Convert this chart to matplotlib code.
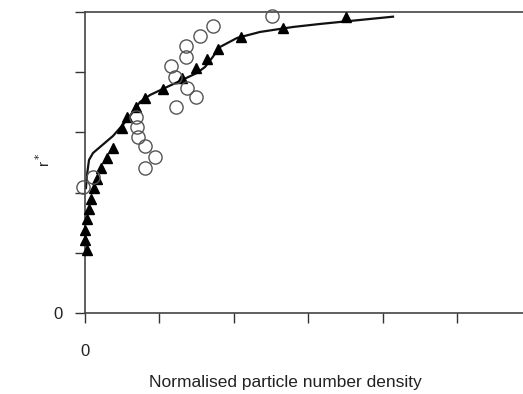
import matplotlib
matplotlib.use('Agg')
import matplotlib.pyplot as plt

plt.rcParams['font.family'] = ['Liberation Sans', 'DejaVu Sans']

# data
tri_x = [0.023, 0.0, 0.0, 0.023, 0.054, 0.081, 0.121, 0.157, 0.215, 0.292,
         0.376, 0.493, 0.569, 0.685, 0.806, 1.052, 1.300, 1.492, 1.644,
         1.792, 2.097, 2.661, 3.508]
tri_y = [1.047, 1.213, 1.379, 1.561, 1.728, 1.894, 2.076, 2.226, 2.409, 2.575,
         2.741, 3.073, 3.256, 3.422, 3.571, 3.721, 3.904, 4.070, 4.219,
         4.385, 4.585, 4.734, 4.917]

circ_x = [-0.027, 0.112, 0.685, 0.695, 0.712, 0.813, 0.941, 0.806, 1.223,
          1.492, 1.367, 1.210, 1.156, 1.353, 1.364, 1.550, 1.714, 2.509]
circ_y = [2.093, 2.267, 3.256, 3.085, 2.924, 2.766, 2.586, 2.414, 3.422,
          3.588, 3.743, 3.925, 4.098, 4.257, 4.430, 4.601, 4.767, 4.934]

fit_x = [0.013, 0.027, 0.054, 0.108, 0.202, 0.376, 0.565, 0.739, 0.874, 1.102,
         1.304, 1.505, 1.613, 1.707, 1.815, 2.043, 2.352, 2.796, 3.159, 4.140]
fit_y = [2.076, 2.292, 2.542, 2.658, 2.757, 2.940, 3.206, 3.505, 3.621, 3.754,
         3.870, 3.987, 4.086, 4.236, 4.419, 4.568, 4.668, 4.751, 4.801, 4.922]

x_ticks = [0, 1, 2, 3, 4, 5]
y_ticks = [0, 1, 2, 3, 4, 5]
x_ticklabels = ['0', '', '', '', '', '']
y_ticklabels = ['0', '', '', '', '', '']

fig = plt.figure(figsize=(5.23, 3.94), dpi=100)
ax = fig.add_axes([0.1625, 0.2056, 0.8375, 0.764])

ax.plot(fit_x, fit_y, color='#111111', linewidth=1.6, zorder=2)
ax.plot(tri_x, tri_y, linestyle='none', marker='^', markersize=7,
        color='black', zorder=3, clip_on=False)
ax.plot(circ_x, circ_y, linestyle='none', marker='o', markersize=9.5,
        markerfacecolor='none', markeredgecolor='#555555',
        markeredgewidth=1.0, zorder=4, clip_on=False)

ax.set_xlim(0, 5.887)
ax.set_ylim(0, 5)
ax.set_xticks(x_ticks)
ax.set_xticklabels(x_ticklabels, fontsize=12)
ax.set_yticks(y_ticks)
ax.set_yticklabels(y_ticklabels, fontsize=12)
ax.tick_params(axis='x', direction='out', length=7, width=1, pad=15,
               colors='#333333', labelcolor='#222222')
ax.tick_params(axis='y', direction='out', length=7, width=1, pad=9,
               colors='#333333', labelcolor='#222222')

for side in ['left', 'bottom', 'top']:
    ax.spines[side].set_color('#444444')
    ax.spines[side].set_linewidth(1.2)
ax.spines['right'].set_visible(False)

ax.set_xlabel('Normalised particle number density', fontsize=12.5,
              color='#222222')
ax.xaxis.set_label_coords(0.457, -0.205)
ax.set_ylabel('r$^*$', fontsize=11, color='#222222')
ax.yaxis.set_label_coords(-0.072, 0.51)

plt.savefig('out.png', dpi=100)
